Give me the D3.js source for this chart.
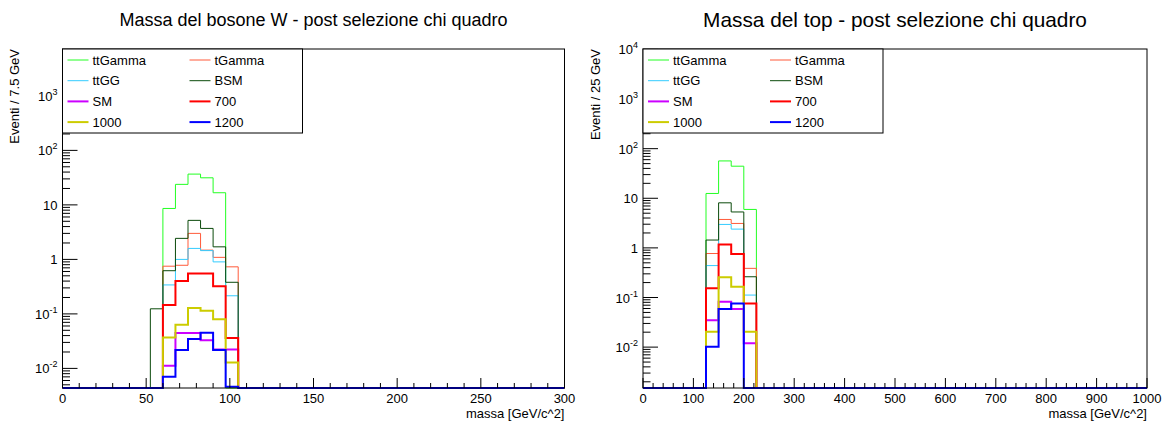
<!DOCTYPE html>
<html><head><meta charset="utf-8">
<script src="https://cdn.jsdelivr.net/npm/d3@7"></script>
<style>body{margin:0;background:#fff}svg{display:block}text{font-family:"Liberation Sans",Arial,sans-serif;fill:#000}</style>
</head><body>
<svg id="c" width="1169" height="424"></svg>
<script>
// ---------- data ----------
const seriesNames = ["ttGamma","tGamma","ttGG","BSM","SM","700","1000","1200"];
const seriesColors = ["#22ff22","#ff5a3a","#33ccff","#0b4a0b","#cc00ff","#ff0000","#cccc00","#0000ff"];
const seriesWidths = [1,1,1,1,2,2,2,2];

// W boson mass histogram: bin lower edges (GeV), width 7.5 GeV
const wBinEdges = [52.5, 60, 67.5, 75, 82.5, 90, 97.5];
const wTtGamma = [0, 8.6, 23.8, 36.7, 31.4, 16.7, 0];
const wTGamma  = [0, 0.75, 0.78, 3.0, 1.48, 1.09, 0.73];
const wTtGG    = [0, 0.34, 1.0, 1.59, 1.45, 0.90, 0.215];
const wBSM     = [0.124, 0.62, 2.43, 5.2, 3.7, 1.70, 0.38];
const wSM      = [0, 0.0112, 0.0445, 0.0445, 0.033, 0.0223, 0.0223];
const w700     = [0, 0.145, 0.40, 0.55, 0.55, 0.32, 0.036];
const w1000    = [0, 0.037, 0.063, 0.128, 0.114, 0.080, 0.0129];
const w1200    = [0, 0.0070, 0.0217, 0.0345, 0.045, 0.0217, 0.0046];

// top mass histogram: bin lower edges (GeV), width 25 GeV
const tBinEdges = [125, 150, 175, 200];
const tTtGamma = [12.5, 56.6, 44.3, 5.96];
const tTGamma  = [0.77, 3.74, 3.11, 0.387];
const tTtGG    = [0.44, 2.97, 2.39, 0.112];
const tBSM     = [1.44, 8.1, 5.3, 0.262];
const tSM      = [0.035, 0.082, 0.0587, 0.012];
const t700     = [0.153, 1.17, 0.75, 0.076];
const t1000    = [0.0205, 0.255, 0.165, 0.0205];
const t1200    = [0.0102, 0.0587, 0.076, 0];

const wXTicks = [0,50,100,150,200,250,300];
const tXTicks = [0,100,200,300,400,500,600,700,800,900,1000];
const titles = ["Massa del bosone W - post selezione chi quadro","Massa del top - post selezione chi quadro"];
const yTitles = ["Eventi / 7.5 GeV","Eventi / 25 GeV"];
const xTitle = "massa [GeV/c^2]";

// ---------- drawing ----------
const svg = d3.select("#c");
const panels = [
  {x0:62.5, x1:564.5, y0:49, y1:388, xd:[0,300], bw:7.5, yd:[0.00437,7244], xMinor:10,
   edges:wBinEdges, data:[wTtGamma,wTGamma,wTtGG,wBSM,wSM,w700,w1000,w1200], xt:wXTicks, ytx:19, tfs:18, tyy:26},
  {x0:643, x1:1147, y0:49, y1:388, xd:[0,1000], bw:25, yd:[0.0015,10200], xMinor:20,
   edges:tBinEdges, data:[tTtGamma,tTGamma,tTtGG,tBSM,tSM,t700,t1000,t1200], xt:tXTicks, ytx:600, tfs:20.8, tyy:26.5}
];

panels.forEach((p,pi)=>{
  const g = svg.append("g");
  const x = d3.scaleLinear().domain(p.xd).range([p.x0,p.x1]);
  const y = d3.scaleLog().domain(p.yd).range([p.y1,p.y0]);
  const nb = Math.round((p.xd[1]-p.xd[0])/p.bw);
  const clip = "clip"+pi;
  g.append("clipPath").attr("id",clip).append("rect")
    .attr("x",p.x0).attr("y",p.y0).attr("width",p.x1-p.x0).attr("height",p.y1-p.y0+2);

  // histograms
  p.data.forEach((vals,si)=>{
    const full = new Array(nb).fill(0);
    p.edges.forEach((e,i)=>{ full[Math.round((e-p.xd[0])/p.bw)] = vals[i]; });
    const yv = v => v>0 ? y(Math.max(v,p.yd[0])) : p.y1;
    let d = "M"+x(p.xd[0])+","+yv(full[0]);
    for(let i=0;i<nb;i++){
      const xl = x(p.xd[0]+i*p.bw), xr = x(p.xd[0]+(i+1)*p.bw);
      d += "L"+xl+","+yv(full[i])+"L"+xr+","+yv(full[i]);
    }
    g.append("path").attr("d",d).attr("fill","none")
      .attr("stroke",seriesColors[si]).attr("stroke-width",seriesWidths[si])
      .attr("clip-path","url(#"+clip+")");
  });

  // frame
  g.append("rect").attr("x",p.x0).attr("y",p.y0).attr("width",p.x1-p.x0).attr("height",p.y1-p.y0)
    .attr("fill","none").attr("stroke","#000").attr("stroke-width",1);

  // x ticks
  for(let v=p.xd[0]; v<=p.xd[1]+1e-9; v+=p.xMinor){
    const major = p.xt.includes(v);
    g.append("line").attr("x1",x(v)).attr("x2",x(v)).attr("y1",p.y1).attr("y2",p.y1-(major?10:5))
      .attr("stroke","#000").attr("stroke-width",1);
  }
  p.xt.forEach(v=>{
    g.append("text").attr("x",x(v)).attr("y",p.y1+15).attr("text-anchor","middle")
      .attr("font-size",13).text(d3.format("d")(v));
  });
  g.append("text").attr("x",p.x1).attr("y",p.y1+30).attr("text-anchor","end").attr("font-size",13).text(xTitle);

  // y log ticks
  const lo = Math.floor(Math.log10(p.yd[0])), hi = Math.ceil(Math.log10(p.yd[1]));
  for(let dcd=lo; dcd<=hi; dcd++){
    for(let k=1;k<=9;k++){
      const v = k*Math.pow(10,dcd);
      if(v<p.yd[0]||v>p.yd[1]*1.0001) continue;
      const yy = y(v);
      g.append("line").attr("x1",p.x0).attr("x2",p.x0+(k===1?15:7.5)).attr("y1",yy).attr("y2",yy)
        .attr("stroke","#000").attr("stroke-width",1);
      if(k===1){
        const t = g.append("text").attr("x",p.x0-5).attr("y",yy+5).attr("text-anchor","end").attr("font-size",13);
        if(dcd===0) t.text("1");
        else if(dcd===1) t.text("10");
        else { t.append("tspan").text("10"); t.append("tspan").attr("dy",-6).attr("font-size",9).text(String(dcd)); }
      }
    }
  }
  g.append("text").attr("transform","translate("+p.ytx+","+p.y0+") rotate(-90)")
    .attr("text-anchor","end").attr("font-size",13).text(yTitles[pi]);

  // title
  g.append("text").attr("x",(p.x0+p.x1)/2).attr("y",p.tyy).attr("text-anchor","middle")
    .attr("font-size",p.tfs).text(titles[pi]);

  // legend
  const lg = g.append("g");
  lg.append("rect").attr("x",p.x0).attr("y",p.y0).attr("width",240).attr("height",84)
    .attr("fill","#fff").attr("stroke","#000").attr("stroke-width",1);
  seriesNames.forEach((n,i)=>{
    const col = i%2, row = Math.floor(i/2);
    const lx = p.x0 + (col===0?5:127), ly = p.y0 + 11 + row*20.7;
    lg.append("line").attr("x1",lx).attr("x2",lx+21).attr("y1",ly).attr("y2",ly)
      .attr("stroke",seriesColors[i]).attr("stroke-width",seriesWidths[i]);
    lg.append("text").attr("x",lx+25).attr("y",ly+4.5).attr("font-size",13).text(n);
  });
});
</script>
</body></html>
